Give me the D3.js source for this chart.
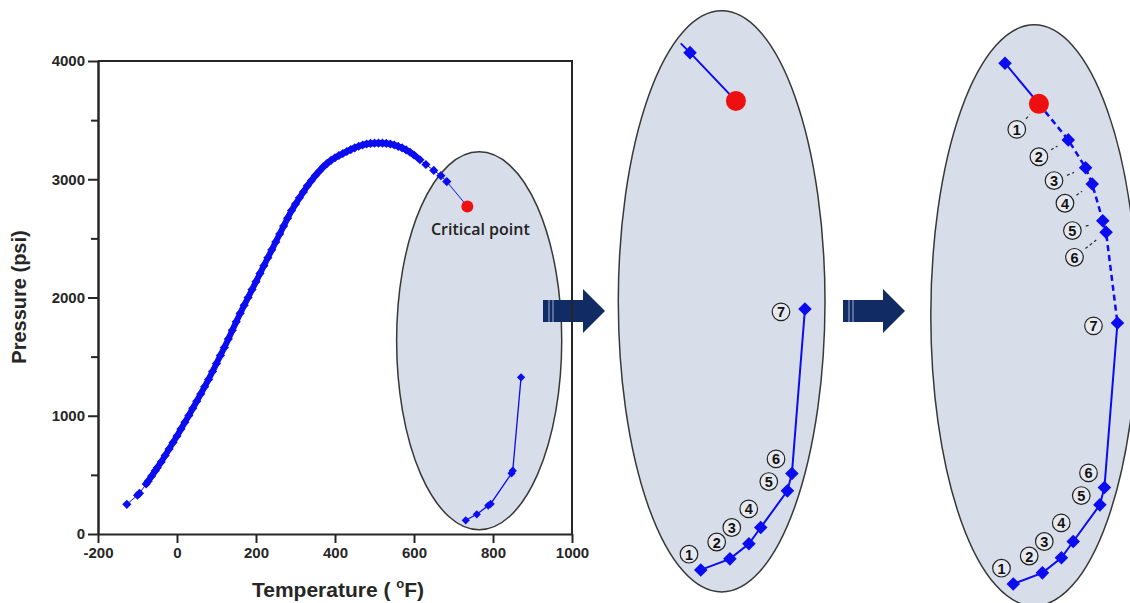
<!DOCTYPE html>
<html>
<head>
<meta charset="utf-8">
<script src="https://cdn.jsdelivr.net/npm/d3@7"></script>
<style>
  body { margin: 0; background: #fff; }
  svg { display: block; }
</style>
</head>
<body>
<svg id="chart" width="1130" height="603"></svg>
<script>
// saturation curve (°F, psi)
const satTemp = [-127, -100, -95, -78, -73, -64, -55, -50, -40, -30, -20, -10,
  0, 10, 20, 30, 40, 50, 60, 70, 80, 90, 100, 110, 120, 130, 140, 150, 160, 170, 180, 190,
  200, 210, 220, 230, 240, 250, 260, 270, 280, 290, 300, 310, 320, 330, 340, 350, 360, 370,
  380, 390, 400, 410, 420, 430, 440, 450, 460, 470, 480, 490, 500, 510, 520, 530, 540, 550,
  560, 570, 580, 590, 600, 615, 630, 650, 668, 683];
const satPres = [251, 328, 344, 423, 447, 490, 535, 560, 609, 664, 719, 774,
  829, 887, 945, 1003, 1063, 1123, 1184, 1245, 1307, 1374, 1442, 1510, 1578, 1650, 1722, 1794, 1866, 1934, 2000, 2067,
  2134, 2202, 2269, 2336, 2403, 2470, 2537, 2604, 2671, 2735, 2790, 2843, 2893, 2944, 2988, 3030, 3068, 3104,
  3134, 3160, 3182, 3201, 3218, 3235, 3251, 3266, 3279, 3290, 3298, 3303, 3305, 3306, 3305, 3303, 3298, 3290,
  3278, 3265, 3248, 3228, 3205, 3165, 3125, 3075, 3030, 2980];
const criticalPoint = [735, 2770];

// lower branch, points 1..7
const branchTemp = [731, 759, 788, 794, 847, 850, 871];
const branchPres = [116, 167, 240, 254, 513, 535, 1325];

const xTicks = [-200, 0, 200, 400, 600, 800, 1000];
const yTicks = [0, 1000, 2000, 3000, 4000];
const yMinorTicks = [500, 1500, 2500, 3500];

// zoomed region (ellipse) in data units
const zoomTemp = [556, 974];
const zoomPres = [36, 3232];

// insets: schematic positions, 0-100 across the ellipse box
const stepLabels = ['1', '2', '3', '4', '5', '6', '7'];
const lowX = [39.9, 54.0, 63.2, 68.9, 81.8, 84.0, 90.3];
const lowY = [3.8, 5.7, 8.3, 11.1, 17.4, 20.4, 48.7];
const lowLabelX = [34.2, 47.6, 54.9, 63.1, 72.8, 76.3, 78.7];
const lowLabelY = [6.5, 8.6, 11.1, 14.3, 19.0, 22.9, 48.2];

const midTopX = [30.2, 34.7, 56.9];
const midTopY = [94.4, 92.8, 84.5];

const rightTopX = [35.9, 52.3];
const rightTopY = [93.4, 86.4];
const upperX = [52.3, 66.5, 74.9, 78.1, 83.2, 84.8, 90.3];
const upperY = [86.4, 80.2, 75.4, 72.6, 66.3, 64.3, 48.7];
const upperLabelX = [41.6, 52.3, 59.6, 64.9, 68.5, 69.5];
const upperLabelY = [82.0, 77.3, 73.2, 69.3, 64.6, 60.0];

const blue = '#0c0cf0', red = '#ee1010', navy = '#112c64';
const ellFill = '#d8dee9', ellStroke = '#383838', ink = '#262626';
const font = '"Liberation Sans", Arial, sans-serif';

const svg = d3.select('#chart');
const x = d3.scaleLinear().domain([-200, 1000]).range([98, 572]);
const y = d3.scaleLinear().domain([0, 4000]).range([534, 61]);

const diamond = d3.symbol().type(d3.symbolSquare);

// --- arrows ---
function arrow(x0, yc) {
  svg.append('path')
    .attr('d', `M${x0},${yc - 11}H${x0 + 40}V${yc - 22}L${x0 + 62},${yc}L${x0 + 40},${yc + 22}V${yc + 11}H${x0}Z`)
    .attr('fill', navy);
  [6, 10].forEach(dx => svg.append('line')
    .attr('x1', x0 + dx).attr('x2', x0 + dx).attr('y1', yc - 11).attr('y2', yc + 11)
    .attr('stroke', '#8d9cc4').attr('stroke-width', 1.2));
}

// --- main plot ---
const ex = x(zoomTemp[0]), ex2 = x(zoomTemp[1]);
const ey = y(zoomPres[1]), ey2 = y(zoomPres[0]);
svg.append('ellipse')
  .attr('cx', (ex + ex2) / 2).attr('cy', (ey + ey2) / 2)
  .attr('rx', (ex2 - ex) / 2).attr('ry', (ey2 - ey) / 2)
  .attr('fill', ellFill).attr('stroke', ellStroke).attr('stroke-width', 1.5);

arrow(543, 311);
arrow(843, 311);

const sat = satTemp.map((t, i) => [t, satPres[i]]);
const line = d3.line().x(d => x(d[0])).y(d => y(d[1]));

svg.append('path').datum(sat.slice(3, -4))
  .attr('d', line).attr('fill', 'none')
  .attr('stroke', blue).attr('stroke-width', 6);
svg.append('path').datum(sat.concat([criticalPoint]))
  .attr('d', line).attr('fill', 'none')
  .attr('stroke', blue).attr('stroke-width', 1);

svg.selectAll('.sat').data(sat).join('path')
  .attr('d', diamond.size(42)())
  .attr('transform', d => `translate(${x(d[0])},${y(d[1])}) rotate(45)`)
  .attr('fill', blue);

const branch = branchTemp.map((t, i) => [t, branchPres[i]]);
svg.append('path').datum(branch)
  .attr('d', line).attr('fill', 'none')
  .attr('stroke', blue).attr('stroke-width', 1.3);
svg.selectAll('.br').data(branch).join('path')
  .attr('d', diamond.size(34)())
  .attr('transform', d => `translate(${x(d[0])},${y(d[1])}) rotate(45)`)
  .attr('fill', blue);

svg.append('circle')
  .attr('cx', x(criticalPoint[0])).attr('cy', y(criticalPoint[1]))
  .attr('r', 6).attr('fill', red);

svg.append('text')
  .attr('x', x(criticalPoint[0]) + 13).attr('y', y(criticalPoint[1]) + 29)
  .attr('text-anchor', 'middle')
  .attr('font-family', '"Open Sans", sans-serif').attr('font-weight', 600)
  .attr('font-size', 16).attr('fill', '#222')
  .text('Critical point');

// axes
svg.append('g').attr('transform', 'translate(98,0)')
  .call(d3.axisLeft(y).tickValues(yTicks).tickFormat(d => String(d))
    .tickSize(10).tickSizeOuter(0).tickPadding(3));
svg.append('g').attr('transform', 'translate(98,0)')
  .call(d3.axisLeft(y).tickValues(yMinorTicks).tickSize(7).tickSizeOuter(0).tickFormat(''));
svg.append('g').attr('transform', 'translate(0,534)')
  .call(d3.axisBottom(x).tickValues(xTicks).tickFormat(d => String(d))
    .tickSize(9).tickSizeOuter(0).tickPadding(4));

svg.selectAll('.domain, .tick line').attr('stroke', ink).attr('stroke-width', 2);
svg.selectAll('.tick text')
  .attr('font-family', font).attr('font-weight', 'bold')
  .attr('font-size', 15).attr('fill', ink);

// frame: top and right
svg.append('path')
  .attr('d', `M${x(-200)},${y(4000)}H${x(1000)}V${y(0)}`)
  .attr('fill', 'none').attr('stroke', ink).attr('stroke-width', 2);

svg.append('text')
  .attr('transform', 'translate(19,297) rotate(-90)')
  .attr('text-anchor', 'middle').attr('dominant-baseline', 'central')
  .attr('font-family', font).attr('font-weight', 'bold').attr('font-size', 20)
  .attr('fill', ink).text('Pressure (psi)');

const xl = svg.append('text')
  .attr('x', 338).attr('y', 597).attr('text-anchor', 'middle')
  .attr('font-family', font).attr('font-weight', 'bold').attr('font-size', 21)
  .attr('fill', ink);
xl.append('tspan').text('Temperature ( ');
xl.append('tspan').attr('font-size', 13).attr('dy', -9).text('o');
xl.append('tspan').attr('dy', 9).text('F)');

// --- inset panels ---
const panels = [
  { x0: 618.3, y0: 10.8 },
  { x0: 930.8, y0: 24.8 }
];
const pw = 206.7, ph = 581.2;

function circled(g, cx, cy, label) {
  g.append('circle').attr('cx', cx).attr('cy', cy).attr('r', 8.8)
    .attr('fill', '#e6e9ef').attr('stroke', '#222').attr('stroke-width', 1.2);
  g.append('text').attr('x', cx).attr('y', cy + 0.5)
    .attr('text-anchor', 'middle').attr('dominant-baseline', 'central')
    .attr('font-family', font).attr('font-weight', 'bold').attr('font-size', 14.5)
    .attr('fill', '#111').text(label);
}

panels.forEach((p, k) => {
  const px = d3.scaleLinear().domain([0, 100]).range([p.x0, p.x0 + pw]);
  const py = d3.scaleLinear().domain([0, 100]).range([p.y0 + ph, p.y0]);
  const g = svg.append('g');
  const pl = d3.line().x(d => px(d[0])).y(d => py(d[1]));

  g.append('ellipse')
    .attr('cx', px(50)).attr('cy', py(50))
    .attr('rx', pw / 2).attr('ry', ph / 2)
    .attr('fill', ellFill).attr('stroke', ellStroke).attr('stroke-width', 1.5);

  const low = lowX.map((v, i) => [v, lowY[i]]);
  const top = k === 0 ? midTopX.map((v, i) => [v, midTopY[i]])
                      : rightTopX.map((v, i) => [v, rightTopY[i]]);
  const marks = low.concat([top[top.length - 2]]);

  g.append('path').datum(top).attr('d', pl)
    .attr('fill', 'none').attr('stroke', blue).attr('stroke-width', 2);
  g.append('path').datum(low).attr('d', pl)
    .attr('fill', 'none').attr('stroke', blue).attr('stroke-width', 2);

  if (k === 1) {
    const upper = upperX.map((v, i) => [v, upperY[i]]);
    g.append('path').datum(upper).attr('d', pl)
      .attr('fill', 'none').attr('stroke', blue).attr('stroke-width', 2.5)
      .attr('stroke-dasharray', '6,4');
    upper.slice(1, 6).forEach(d => marks.push(d));
    upperLabelX.forEach((lx, i) => {
      const ax = px(lx), ay = py(upperLabelY[i]);
      const bx = px(upperX[i]), by = py(upperY[i]);
      const len = Math.hypot(bx - ax, by - ay);
      const ux = (bx - ax) / len, uy = (by - ay) / len;
      const end = Math.max(len - (i === 0 ? 14 : 12.5), 17);
      g.append('line')
        .attr('x1', ax + ux * 14).attr('y1', ay + uy * 14)
        .attr('x2', ax + ux * end).attr('y2', ay + uy * end)
        .attr('stroke', '#333').attr('stroke-width', 1.3)
        .attr('stroke-dasharray', '3,2.5');
      circled(g, ax, ay, stepLabels[i]);
    });
  }

  g.selectAll('.m').data(marks).join('path')
    .attr('d', diamond.size(92)())
    .attr('transform', d => `translate(${px(d[0])},${py(d[1])}) rotate(45)`)
    .attr('fill', blue);

  const cp = top[top.length - 1];
  g.append('circle').attr('cx', px(cp[0])).attr('cy', py(cp[1]))
    .attr('r', 10).attr('fill', red);

  lowLabelX.forEach((lx, i) => circled(g, px(lx), py(lowLabelY[i]), stepLabels[i]));
});
</script>
</body>
</html>
